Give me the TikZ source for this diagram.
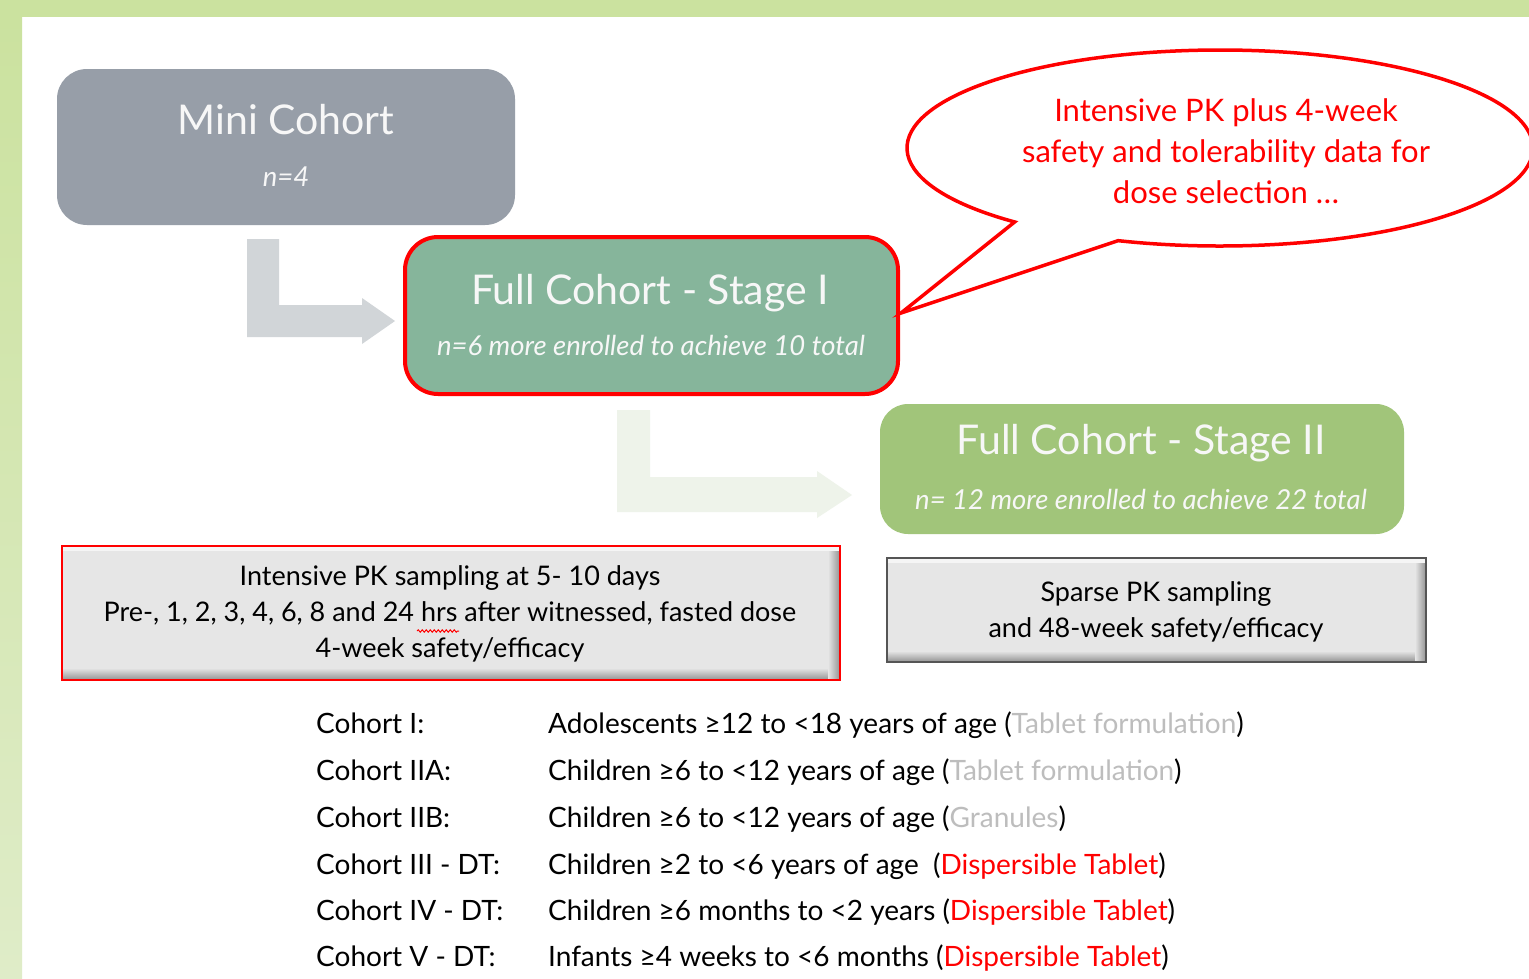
\documentclass[tikz,border=0pt]{standalone}
\usepackage{fontspec}
\setmainfont{Lato}
\usetikzlibrary{decorations.pathmorphing,calc}
\definecolor{bggreen}{HTML}{CBE29F}
\definecolor{bglight}{HTML}{DFECC8}
\definecolor{minigray}{HTML}{979EA8}
\definecolor{stageone}{HTML}{86B59B}
\definecolor{stagetwo}{HTML}{A1C57A}
\definecolor{arrowgray}{HTML}{D1D5D8}
\definecolor{arrowpale}{HTML}{EEF3EA}
\definecolor{boxgray}{HTML}{E6E6E6}
\definecolor{boxdark}{HTML}{555555}
\definecolor{pkred}{HTML}{FF0000}
\definecolor{lgray}{HTML}{BDBDBD}
\definecolor{titlewhite}{HTML}{F7F7F7}
\tikzset{
  cohortbox/.style={rounded corners=30pt, inner sep=0pt},
  titletext/.style={text=titlewhite, font=\fontsize{41}{46}\selectfont, inner sep=0pt},
  subtext/.style={text=titlewhite, font=\fontsize{27.5}{32}\selectfont\itshape, inner sep=0pt},
  infobox/.style={fill=boxgray, inner sep=0pt},
  infotext/.style={align=center, font=\fontsize{27}{36}\selectfont, inner sep=0pt},
  lbl/.style={anchor=base west, font=\fontsize{28}{32}\selectfont, inner sep=0pt}
}
\begin{document}
\begin{tikzpicture}[x=1pt,y=-1pt]
\useasboundingbox (0,0) rectangle (1529,978);
\clip (0,0) rectangle (1529,978);
% background
\fill[white] (0,0) rectangle (1529,978);
\fill[bggreen] (0,0) rectangle (1529,17);
\shade[top color=bggreen, bottom color=bglight] (0,17) rectangle (22,978);

% block arrows
\fill[arrowgray] (247,239) -- (279,239) -- (279,305) -- (362,305) -- (362,298) -- (395,321) -- (362,344) -- (362,337) -- (247,337) -- cycle;
\fill[arrowpale] (617,410) -- (650,410) -- (650,477) -- (817,477) -- (817,471) -- (852,495) -- (817,518) -- (817,512) -- (617,512) -- cycle;

% cohort boxes
\node[cohortbox, fill=minigray, minimum width=458pt, minimum height=156pt] (mini) at (286,147) {};
\node[titletext] (minititle) at (286,120) {Mini Cohort};
\node[subtext] (minisub) at (286,177) {n=4};

\node[cohortbox, rounded corners=33pt, fill=stageone, draw=pkred, line width=4pt, minimum width=493pt, minimum height=157pt] (stage1) at (651.5,315.5) {};
\node[titletext] (s1title) at (650,293) {Full Cohort - Stage I};
\node[subtext] (s1sub) at (651,345) {n=6 more enrolled to achieve 10 total};

\node[cohortbox, rounded corners=28pt, fill=stagetwo, minimum width=524pt, minimum height=130pt] (stage2) at (1142,469) {};
\node[titletext] (s2title) at (1141,443) {Full Cohort - Stage II};
\node[subtext] (s2sub) at (1141,499) {n= 12 more enrolled to achieve 22 total};

% callout
\coordinate (ellc) at (1220,148);
\coordinate (tip) at (901,313);
\filldraw[fill=white, draw=pkred, line width=3.5pt, line join=miter]
  ($(ellc)+(131:313 and 98)$) arc[start angle=131, end angle=469, x radius=313, y radius=98] -- (tip) -- cycle;
\node[align=center, text=pkred, font=\fontsize{31}{41}\selectfont, inner sep=0pt] (callout) at (1226,151)
  {Intensive PK plus 4-week\\safety and tolerability data for\\dose selection \dots};

% info boxes
\node[infobox, minimum width=778pt, minimum height=134pt] (pk) at (451,613) {};
\shade[top color=boxgray, bottom color=gray!80] (63,668) rectangle (839,679);
\shade[left color=boxgray, right color=gray!80] (828,547) rectangle (839,679);
\fill[white!60!boxgray] (63,547) rectangle (839,551);
\draw[pkred, line width=2pt] (pk.north west) rectangle (pk.south east);
\node[infotext] (pktext) at (450,614) {Intensive PK sampling at 5- 10 days\\Pre-, 1, 2, 3, 4, 6, 8 and 24 hrs after witnessed, fasted dose\\4-week safety/efficacy};
\draw[pkred, line width=1pt, decorate, decoration={snake, amplitude=1.2pt, segment length=4pt}] (417,631) -- (459,631);

\node[infobox, minimum width=539pt, minimum height=104pt] (sparse) at (1156.5,610) {};
\shade[top color=boxgray, bottom color=gray!80] (888,651) rectangle (1425,661);
\shade[left color=boxgray, right color=gray!80] (1415,559) rectangle (1425,661);
\fill[white!60!boxgray] (888,559) rectangle (1425,563);
\draw[boxdark, line width=2.5pt] (sparse.north west) rectangle (sparse.south east);
\node[infotext] (sparsetext) at (1156,612) {Sparse PK sampling\\and 48-week safety/efficacy};

% cohort list
\node[lbl] (l1) at (316,733) {Cohort I:};
\node[lbl] (d1) at (548,733) {Adolescents ≥12 to <18 years of age (\textcolor{lgray}{Tablet formulation})};
\node[lbl] (l2) at (316,780) {Cohort IIA:};
\node[lbl] (d2) at (548,780) {Children ≥6 to <12 years of age (\textcolor{lgray}{Tablet formulation})};
\node[lbl] (l3) at (316,827) {Cohort IIB:};
\node[lbl] (d3) at (548,827) {Children ≥6 to <12 years of age (\textcolor{lgray}{Granules})};
\node[lbl] (l4) at (316,874) {Cohort III - DT:};
\node[lbl] (d4) at (548,874) {Children ≥2 to <6 years of age\ \ (\textcolor{pkred}{Dispersible Tablet})};
\node[lbl] (l5) at (316,920) {Cohort IV - DT:};
\node[lbl] (d5) at (548,920) {Children ≥6 months to <2 years (\textcolor{pkred}{Dispersible Tablet})};
\node[lbl] (l6) at (316,966) {Cohort V - DT:};
\node[lbl] (d6) at (548,966) {Infants ≥4 weeks to <6 months (\textcolor{pkred}{Dispersible Tablet})};
\end{tikzpicture}
\end{document}
